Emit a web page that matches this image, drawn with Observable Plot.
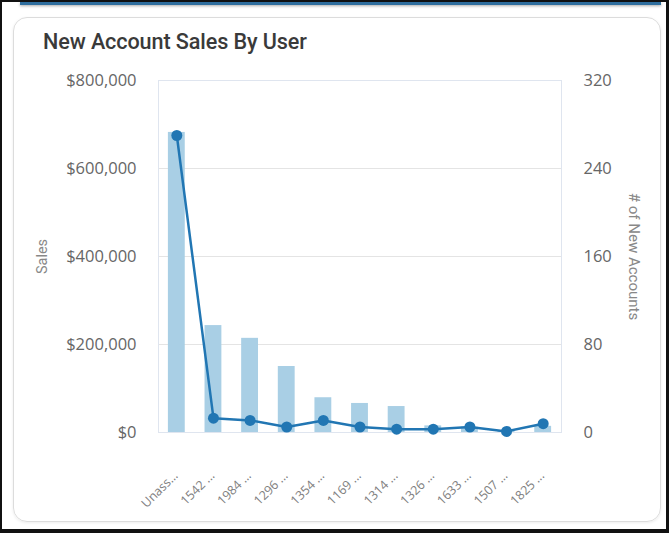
<!DOCTYPE html>
<html><head><meta charset="utf-8">
<script src="https://cdn.jsdelivr.net/npm/d3@7"></script>
<script src="https://cdn.jsdelivr.net/npm/@observablehq/plot@0.6"></script>
<style>
html,body{margin:0;padding:0;background:#fff;width:669px;height:533px;overflow:hidden;}
#frame{position:absolute;left:0;top:0;width:669px;height:533px;box-sizing:border-box;border-style:solid;border-color:#111;border-width:2px 3px 4px 2px;pointer-events:none;z-index:5;}
#topline{position:absolute;left:20px;right:8px;top:2px;height:3px;background:#2f6e9e;box-shadow:0 1px 3px rgba(0,0,0,.35);}
#card{position:absolute;left:13px;top:17px;width:648px;height:505px;box-sizing:border-box;border:1.5px solid #dcdcdc;border-radius:14px;box-shadow:0 1px 3px rgba(0,0,0,.08);}
#title{position:absolute;left:43px;top:29px;font:500 21.6px Roboto, sans-serif;color:#3a3a3a;white-space:nowrap;letter-spacing:-0.1px;}
#chart{position:absolute;left:14px;top:60px;}
</style>
</head><body>
<div id="topline"></div>
<div id="card"></div>
<div id="title">New Account Sales By User</div>
<div id="chart"></div>
<div id="frame"></div>
<script>
const users = ["Unass...", "1542 ...", "1984 ...", "1296 ...", "1354 ...", "1169 ...", "1314 ...", "1326 ...", "1633 ...", "1507 ...", "1825 ..."];
const sales = [682000, 243000, 214000, 150000, 79000, 66000, 59000, 15000, 12000, 4000, 14000];
const newAccounts = [270, 13, 11, 5, 11, 5, 3, 3, 5, 1, 8];
const salesTicks = [0, 200000, 400000, 600000, 800000];
const accountTicks = [0, 80, 160, 240, 320];

const ratio = 800000 / 320;
const data = users.map((u, i) => ({user: u, sales: sales[i], accounts: newAccounts[i]}));
const fmt = d3.format(",");

const chart = Plot.plot({
  width: 646,
  height: 460,
  marginLeft: 144,
  marginRight: 99,
  marginTop: 20,
  marginBottom: 88,
  style: {fontFamily: "'Open Sans', sans-serif", background: "transparent", color: "#666"},
  x: {domain: users, paddingInner: 0.54, paddingOuter: 0.27, round: false, label: null},
  y: {domain: [0, 800000], label: null},
  marks: [
    Plot.gridY(salesTicks, {stroke: "#e4e4e4", strokeOpacity: 1}),
    Plot.frame({stroke: "#dfe5ef"}),
    Plot.barY(data, {x: "user", y: "sales", fill: "#a9cfe5"}),
    Plot.line(data, {x: "user", y: d => d.accounts * ratio, stroke: "#2176b3", strokeWidth: 2.5}),
    Plot.dot(data, {x: "user", y: d => d.accounts * ratio, r: 5.5, fill: "#2176b3"}),
    Plot.axisY({ticks: salesTicks, tickFormat: d => "$" + fmt(d), tickSize: 0, tickPadding: 22, label: null, fontSize: 16.5, fill: "#666"}),
    Plot.axisY({anchor: "right", ticks: accountTicks.map(v => v * ratio), tickFormat: d => String(d / ratio), tickSize: 0, tickPadding: 22, label: null, fontSize: 16.5, fill: "#666"}),
    Plot.axisX({tickRotate: -45, tickSize: 0, tickPadding: 41, dx: -1, label: null, fontSize: 12.5, fill: "#808080"}),
    Plot.text(["Sales"], {text: d => d, frameAnchor: "left", dx: -116, rotate: -90, textAnchor: "middle", fontSize: 14.5, fill: "#888", fontFamily: "Roboto"}),
    Plot.text(["# of New Accounts"], {text: d => d, frameAnchor: "right", dx: 72, rotate: 90, textAnchor: "middle", fontSize: 15, fill: "#888", fontFamily: "Roboto"})
  ]
});
document.getElementById("chart").appendChild(chart);
</script>
</body></html>
